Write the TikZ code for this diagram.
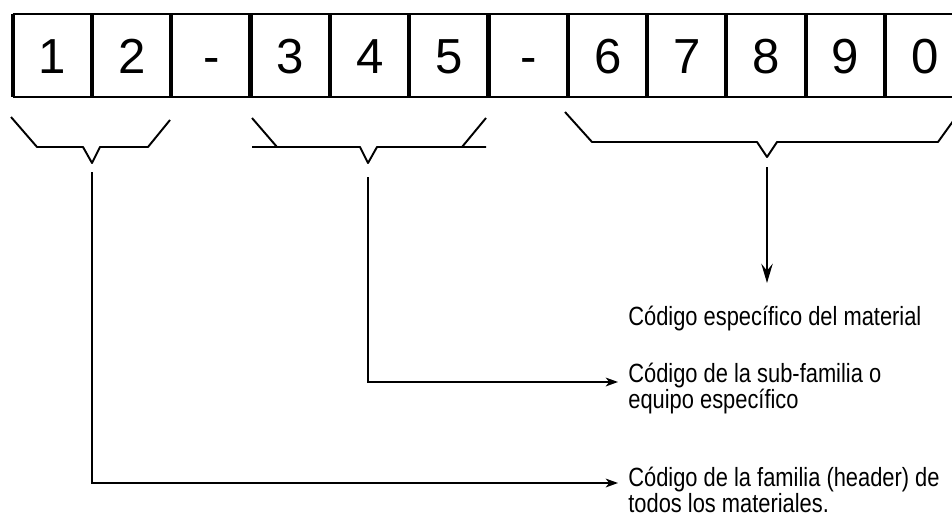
\documentclass[tikz,border=0pt]{standalone}
\usepackage{fontspec}
\setmainfont{Liberation Sans}
\newfontfamily\labelfont[FakeStretch=0.83]{Liberation Sans}
\usetikzlibrary{arrows.meta,positioning}
\tikzset{>={Stealth[length=7pt,width=5pt,inset=2pt]}}
\tikzset{
  cell/.style={minimum width=1.586cm,minimum height=1.66cm,inner sep=0pt,text height=20pt,text depth=0pt,font=\fontsize{28}{30}\selectfont},
  bar/.style={line width=2.4pt},
  edge/.style={line width=1.1pt},
  brace/.style={line width=1.1pt,line join=round},
  lead/.style={line width=1pt},
  label/.style={inner sep=0pt,align=left,font=\labelfont\fontsize{15}{14.7}\selectfont}
}

\begin{document}
\begin{tikzpicture}[x=0.02cm,y=-0.02cm]
        \clip (0,0) rectangle (952,517);
        % code cells
        \foreach \d [count=\i] in {1,2,-,3,4,5,-,6,7,8,9,0}
          \node[cell] (c\i) at ({13+79.3*(\i-0.5)},55.5) {\d};
        \draw[edge] (c1.north west) -- (c12.north east);
        \draw[edge] (c1.south west) -- (c12.south east);
        \foreach \i in {1,...,12}
          \draw[bar] (c\i.north west) -- (c\i.south west);
        \draw[bar] (c12.north east) -- (c12.south east);
        % braces
        \coordinate (famtip) at (92,163);
        \coordinate (subtip) at (368,163);
        \coordinate (mattip) at (767,157);
        \draw[brace] (11,117) -- (37,147) -- (83,147) -- (famtip) -- (100,147) -- (148,147) -- (170,120);
        \draw[brace] (252,118) -- (277,147);
        \draw[brace] (252,147) -- (360,147) -- (subtip) -- (377,147) -- (486,147);
        \draw[brace] (462,147) -- (486,118);
        \draw[brace] (565,112) -- (592,142) -- (757,142) -- (mattip) -- (777,142) -- (938,142) -- (956,117);
        % labels
        \node[label,anchor=base west] (mat) at (628,325) {Código específico del material};
        \node[label,anchor=base west] (sub) at (628,408) {Código de la sub-familia o\\equipo específico};
        \node[label,anchor=base west] (fam) at (628,512) {Código de la familia (header) de\\todos los materiales.};
        % leaders
        \draw[lead,-{Stealth[length=11pt,width=6.5pt,inset=4pt]}] ([yshift=-10*0.02cm]mattip) -- (767,283);
        \draw[lead,->] ([yshift=-14*0.02cm]subtip) |- (618,382);
        \draw[lead,->] ([yshift=-9*0.02cm]famtip) |- (618,483);
\end{tikzpicture}
\end{document}
